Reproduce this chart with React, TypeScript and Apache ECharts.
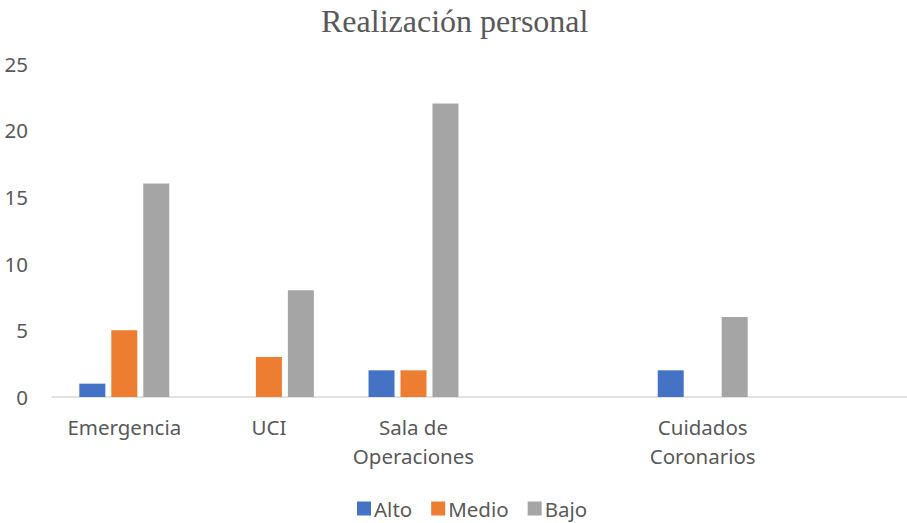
import React, { useEffect, useRef } from "react";
import * as echarts from "echarts";

const categories = ["Emergencia", "UCI", "Sala de Operaciones", "", "Cuidados Coronarios", ""];
const alto = [1, null, 2, null, 2, null];
const medio = [5, 3, 2, null, null, null];
const bajo = [16, 8, 22, null, 6, null];
const seriesNames = ["Alto", "Medio", "Bajo"];
const colors = ["#4472C4", "#ED7D31", "#A5A5A5"];

export default function App() {
  const ref = useRef<HTMLDivElement>(null);
  useEffect(() => {
    document.body.style.margin = "0";
    const chart = echarts.init(ref.current!, null, { renderer: "svg" });
    const font = "'Noto Sans', sans-serif";
    const data = [alto, medio, bajo];
    chart.setOption({
      animation: false,
      title: {
        text: "Realización personal",
        left: 316,
        top: 0,
        textStyle: { fontFamily: "'Liberation Serif', serif", fontSize: 32, fontWeight: "normal", color: "#595959" },
      },
      legend: {
        left: 352,
        top: 493,
        itemWidth: 14,
        itemHeight: 14,
        itemGap: 19,
        icon: "rect",
        textStyle: { fontFamily: font, fontSize: 20.5, lineHeight: 20, color: "#595959", padding: [0, 0, 0, -2] },
        data: seriesNames,
      },
      grid: { left: 52, right: 0.4, top: 63.5, bottom: 126, containLabel: false },
      xAxis: {
        type: "category",
        data: categories,
        axisLine: { lineStyle: { color: "#D9D9D9", width: 1.5 } },
        axisTick: { show: false },
        axisLabel: {
          interval: 0,
          margin: 15,
          fontFamily: font,
          fontSize: 20.5,
          lineHeight: 29,
          color: "#595959",
          formatter: (v: string) => {
            if (v.length > 12) {
              const i = v.lastIndexOf(" ");
              return v.slice(0, i) + "\n" + v.slice(i + 1);
            }
            return v;
          },
        },
      },
      yAxis: {
        type: "value",
        min: 0,
        max: 25,
        interval: 5,
        axisLine: { show: false },
        axisTick: { show: false },
        splitLine: { show: false },
        axisLabel: { margin: 24, fontFamily: font, fontSize: 20.5, color: "#595959" },
      },
      series: seriesNames.map((n, i) => ({
        name: n,
        type: "bar",
        data: data[i],
        barWidth: 26,
        barGap: "23%",
        itemStyle: { color: colors[i] },
      })),
    });
    return () => chart.dispose();
  }, []);
  return (
    <div style={{ width: 907, height: 523, overflow: "hidden" }}>
      <div ref={ref} style={{ width: 920, height: 523 }} />
    </div>
  );
}
